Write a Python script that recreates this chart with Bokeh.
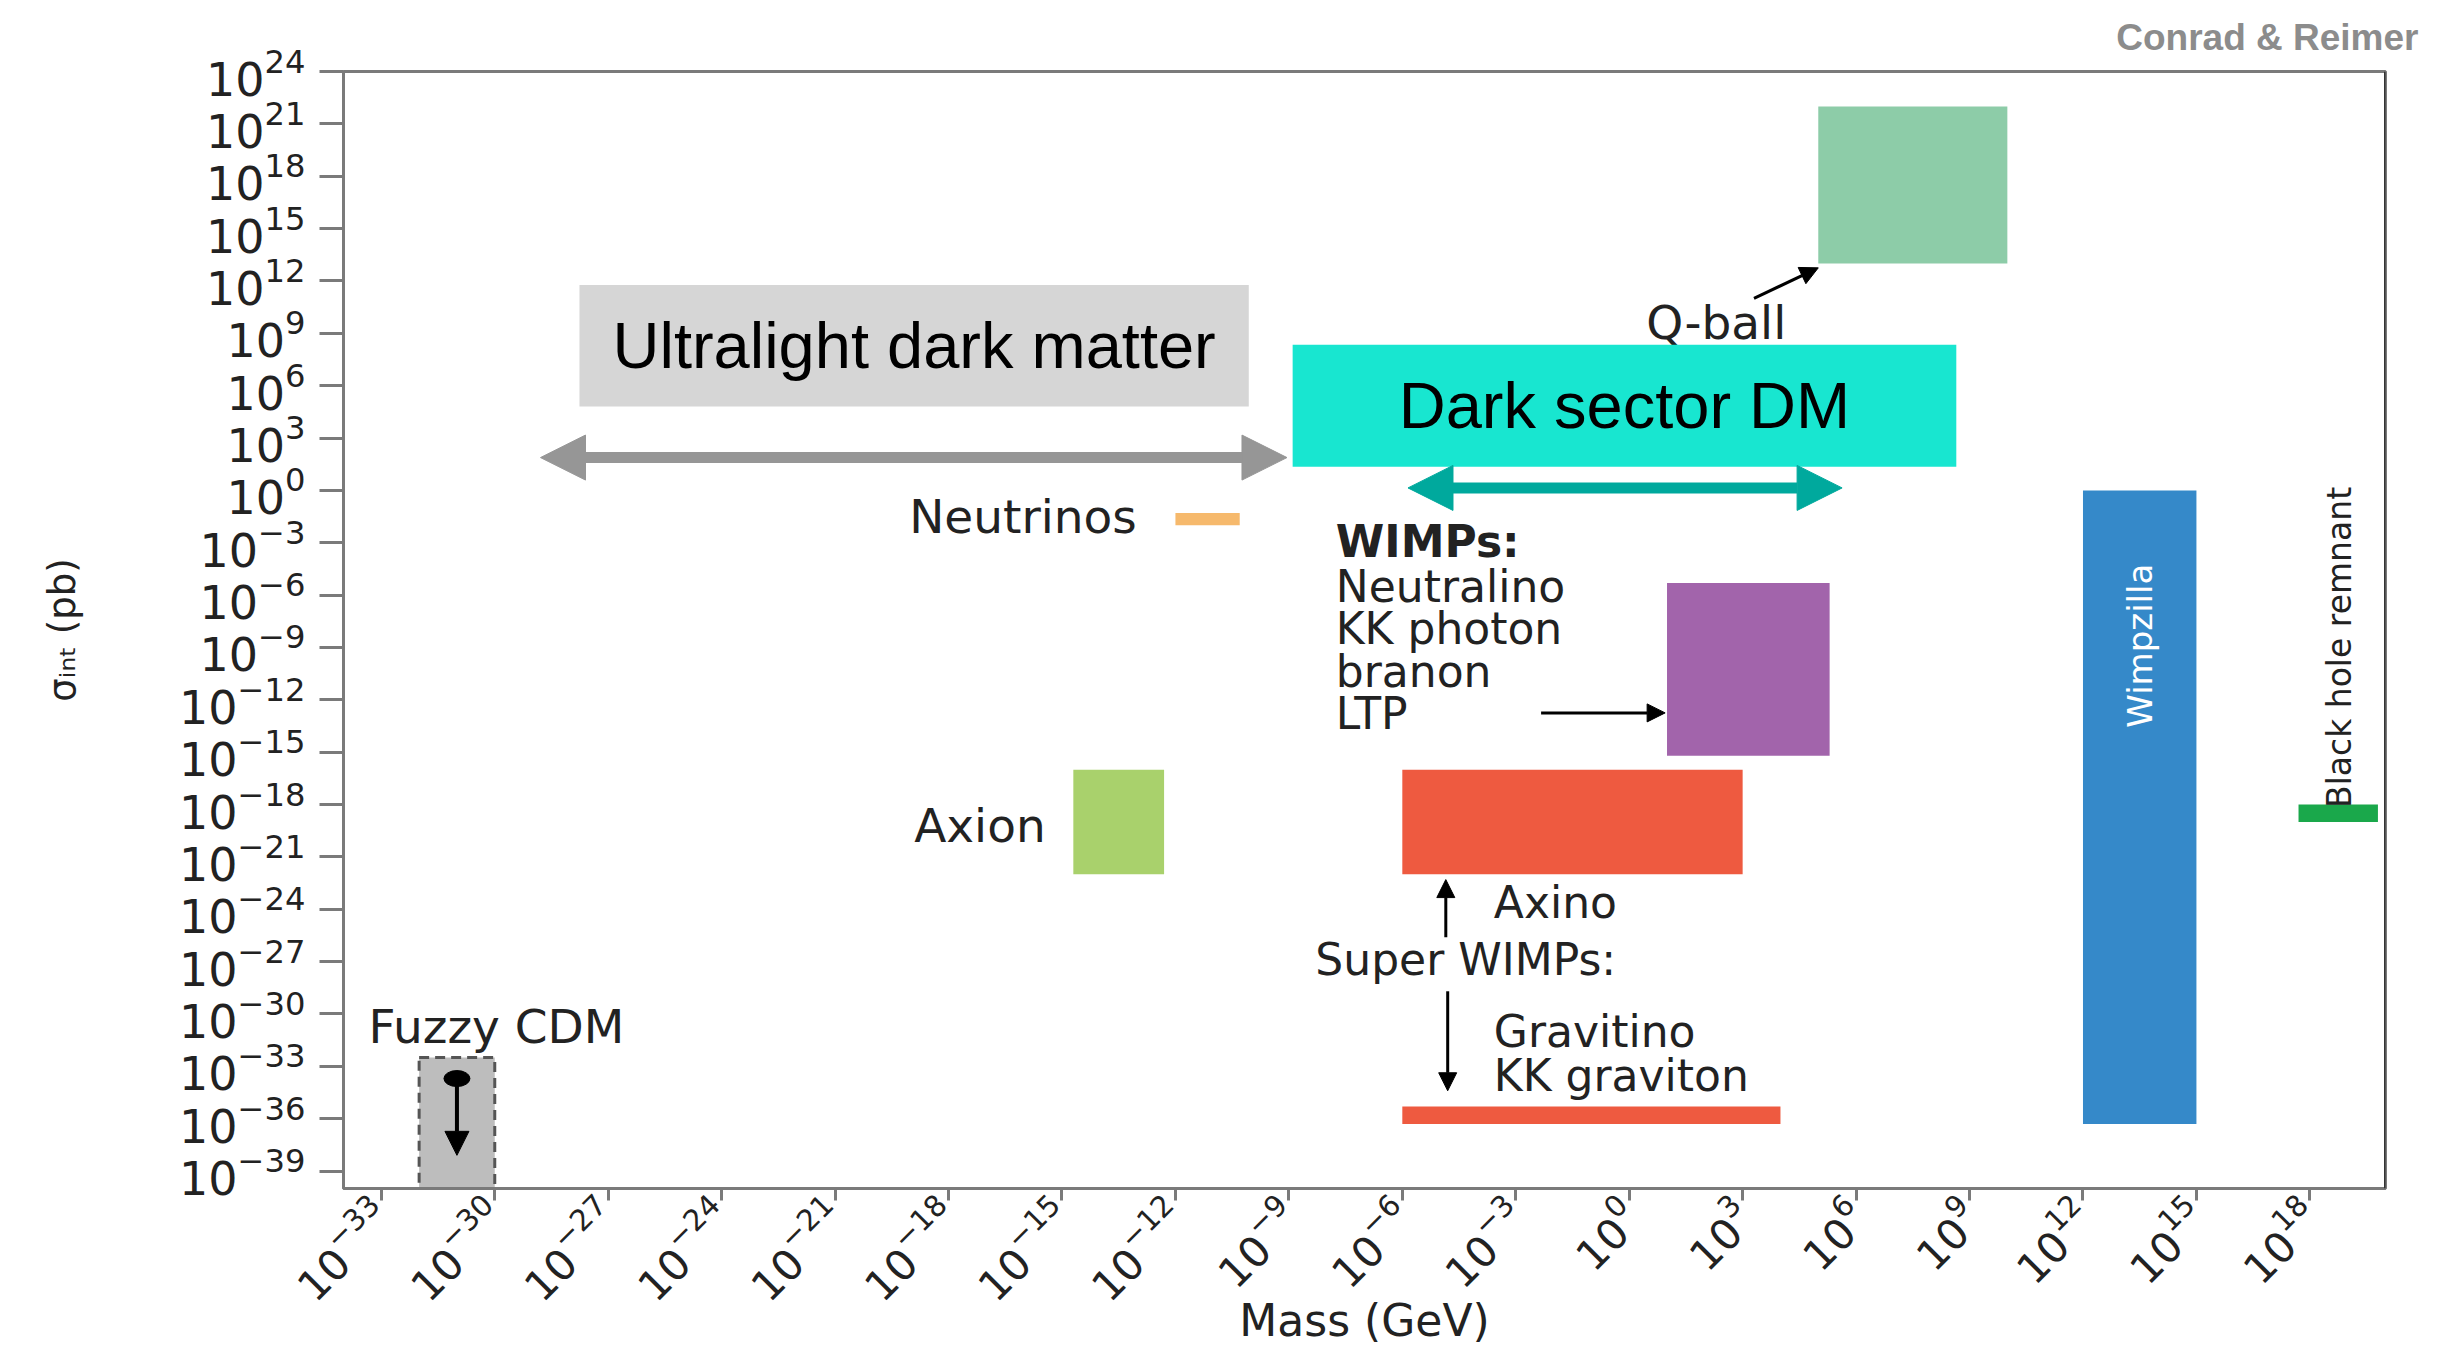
import math
from bokeh.plotting import figure
from bokeh.models import Range1d, FixedTicker, Arrow, NormalHead, Span, ColumnDataSource
from bokeh.embed import file_html
from bokeh.resources import INLINE
from bokeh.core.properties import value

# ---- dark-matter candidates: mass range (GeV) and interaction cross-section range (pb)
candidates = ["Neutrinos", "Axion", "Q-ball", "WIMPs", "Axino", "Gravitino", "Wimpzilla", "Black hole remnant"]
mass_lo = [10**-12.0, 10**-14.7, 1e5, 1e1, 1e-6, 1e-6, 1e12, 10**17.7]
mass_hi = [10**-10.3, 10**-12.3, 1e10, 10**5.3, 1e3, 1e4, 1e15, 10**19.8]
sigma_lo = [1e-2, 1e-22, 1e13, 10**-15.2, 1e-22, 10**-36.3, 10**-36.3, 1e-19]
sigma_hi = [10**-1.3, 1e-16, 1e22, 10**-5.3, 1e-16, 10**-35.3, 1e0, 1e-18]
colors = ["#f6b96c", "#a9d16c", "#8dcca8", "#a264ab", "#ee5a40", "#ee5a40", "#3589c9", "#1aa84b"]

# fuzzy cold dark matter: mass window and upper bound on the cross-section
fuzzy_mass = (1e-32, 1e-30)
fuzzy_sigma_max = 10**-32.5
fuzzy_point = (1e-31, 10**-33.7)
fuzzy_arrow_end = 10**-38.1

# tick positions (every three decades)
x_ticks = [10.0**e for e in range(-33, 19, 3)]
y_ticks = [10.0**e for e in range(-39, 25, 3)]

# overview bands laid over the chart
ultralight_band = (10**-27.76, 10**-10.06, 10**4.8, 10**11.77)
ultralight_span = (10**-28.79, 10**-9.05, 10**1.88)
dark_sector_band = (10**-8.9, 10**8.65, 10**1.35, 10**8.34)
dark_sector_span = (10**-5.85, 10**5.63, 10**0.14)

FONT = "DejaVu Sans"
TXT = "#222222"
AX = "#7a7a7a"

p = figure(width=2446, height=1348, x_axis_type="log", y_axis_type="log",
           x_range=Range1d(1e-34, 1e20), y_range=Range1d(1e-40, 1e24),
           output_backend="svg", toolbar_location=None,
           min_border_left=343, min_border_right=61, min_border_top=71, min_border_bottom=160)
p.xgrid.visible = False
p.ygrid.visible = False
p.outline_line_color = AX
p.outline_line_width = 3
p.background_fill_color = "white"
p.border_fill_color = "white"

# credit line at the top right
p.title.text = "Conrad & Reimer"
p.title.align = "right"
p.title.offset = -33
p.title.standoff = 27
p.title.text_font = "Liberation Sans"
p.title.text_font_size = "37px"
p.title.text_font_style = "bold"
p.title.text_color = "#8c8c8c"

for ax, ticks, tick_out, size in ((p.xaxis, x_ticks, 12, "42px"), (p.yaxis, y_ticks, 24, "46px")):
    ax.ticker = FixedTicker(ticks=ticks)
    ax.axis_line_color = AX
    ax.axis_line_width = 3
    ax.major_tick_line_color = AX
    ax.major_tick_line_width = 3
    ax.major_tick_out = tick_out
    ax.major_tick_in = 0
    ax.minor_tick_line_color = None
    ax.major_label_text_font = FONT
    ax.major_label_text_font_size = size
    ax.major_label_text_color = TXT
    ax.axis_label_text_font = FONT
    ax.axis_label_text_font_style = "normal"
    ax.axis_label_text_color = TXT
p.yaxis.major_label_standoff = 14
p.xaxis.major_label_standoff = 6
p.xaxis.major_label_orientation = math.pi / 4

p.xaxis.axis_label = "Mass (GeV)"
p.xaxis.axis_label_text_font_size = "44px"
p.xaxis.axis_label_standoff = -28
p.yaxis.axis_label = "σᵢₙₜ (pb)"
p.yaxis.axis_label_text_font_size = "37px"
p.yaxis.axis_label_standoff = 92

p.add_layout(Span(location=1e20, dimension="height", line_color="#333333", line_width=3))

# ---- candidate regions
src = ColumnDataSource(dict(left=mass_lo, right=mass_hi, bottom=sigma_lo, top=sigma_hi, color=colors, name=candidates))
p.quad(left="left", right="right", bottom="bottom", top="top", fill_color="color", line_color=None, source=src)

p.quad(left=[fuzzy_mass[0]], right=[fuzzy_mass[1]], bottom=[1e-40], top=[fuzzy_sigma_max],
       fill_color="#bdbdbd", line_color="#555555", line_width=3, line_dash="10 6")
p.ellipse(x=[fuzzy_point[0]], y=[fuzzy_point[1]], width=26, height=16,
          width_units="screen", height_units="screen", fill_color="black", line_color="black")
p.add_layout(Arrow(end=NormalHead(size=24, fill_color="black", line_color="black"),
                   x_start=fuzzy_point[0], y_start=fuzzy_point[1], x_end=fuzzy_point[0], y_end=fuzzy_arrow_end,
                   line_width=4, line_color="black"))

# ---- labels
def texts(xs, ys, labels, align="left", size="47px", style="normal", color=TXT, angle=0.0):
    p.text(x=xs, y=ys, text=labels, text_font=value(FONT), text_font_size=size,
           text_font_style=style, text_color=color, text_align=align,
           text_baseline="middle", angle=angle)

texts([10**-33.34], [10**-30.7], ["Fuzzy CDM"])
texts([10**-13.02, 10**-15.43], [10**-1.5, 10**-19.2], ["Neutrinos", "Axion"], align="right")
texts([10**2.3], [10**9.6], ["Q-ball"], align="center")
texts([10**-7.76], [10**-2.95], ["WIMPs:"], size="44px", style="bold")
texts([10**-7.76] * 4, [10**-5.5, 10**-7.9, 10**-10.4, 10**-12.8],
      ["Neutralino", "KK photon", "branon", "LTP"], size="44px")
texts([10**-3.58, 10**-8.3, 10**-3.58, 10**-3.58], [10**-23.6, 10**-26.9, 10**-31.0, 10**-33.5],
      ["Axino", "Super WIMPs:", "Gravitino", "KK graviton"], size="44px")
texts([10**13.5], [10**-8.9], ["Wimpzilla"], align="center", size="34px", color="white", angle=math.pi / 2)
texts([10**18.78], [10**-9.0], ["Black hole remnant"], align="center", size="33px", angle=math.pi / 2)

def thin_arrow(x0, y0, x1, y1):
    p.add_layout(Arrow(end=NormalHead(size=18, fill_color="black", line_color="black"),
                       x_start=x0, y_start=y0, x_end=x1, y_end=y1, line_width=3, line_color="black"))

thin_arrow(10**3.3, 10**11.0, 10**5.0, 10**12.75)
thin_arrow(10**-2.33, 10**-12.75, 10**0.95, 10**-12.75)
thin_arrow(10**-4.85, 10**-25.6, 10**-4.85, 10**-22.3)
thin_arrow(10**-4.8, 10**-28.7, 10**-4.8, 10**-34.4)

# ---- overview bands
l, r, b, t = ultralight_band
p.quad(left=[l], right=[r], bottom=[b], top=[t], fill_color="#d6d6d6", line_color=None)
p.text(x=[(l * r) ** 0.5], y=[(b * t) ** 0.5], text=["Ultralight dark matter"], text_font=value("Liberation Sans"),
       text_font_size="65px", text_color="black", text_align="center", text_baseline="middle")
l, r, b, t = dark_sector_band
p.quad(left=[l], right=[r], bottom=[b], top=[t], fill_color="#18e6d0", line_color=None)
p.text(x=[(l * r) ** 0.5], y=[(b * t) ** 0.5], text=["Dark sector DM"], text_font=value("Liberation Sans"),
       text_font_size="65px", text_color="black", text_align="center", text_baseline="middle")

for (x0, x1, yy), col in ((ultralight_span, "#969696"), (dark_sector_span, "#00a99d")):
    p.add_layout(Arrow(start=NormalHead(size=45, fill_color=col, line_color=col),
                       end=NormalHead(size=45, fill_color=col, line_color=col),
                       x_start=x0, y_start=yy, x_end=x1, y_end=yy, line_width=11, line_color=col))

open("out.html", "w").write(file_html(p, INLINE))
